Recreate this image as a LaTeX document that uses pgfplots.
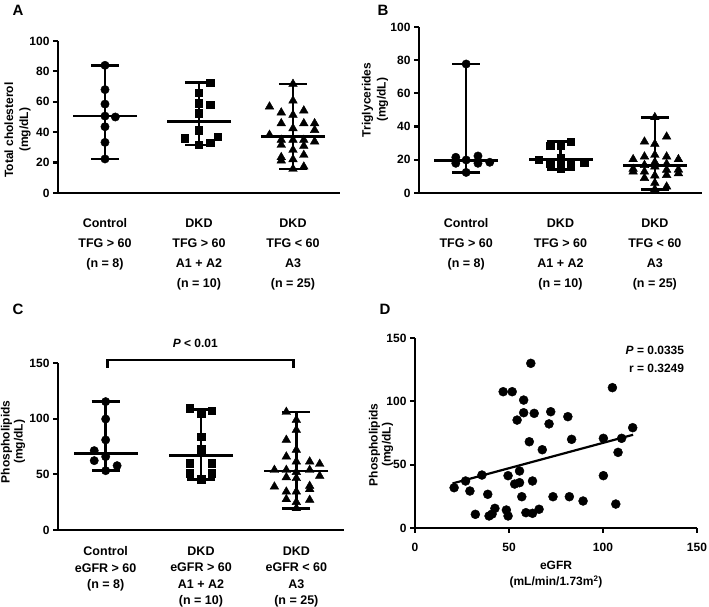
\documentclass[border=0pt]{standalone}
\usepackage{fontspec}
\setmainfont{Liberation Sans}
\usepackage{pgfplots}
\pgfplotsset{compat=1.18}

\pgfplotsset{
  panel/.style={
    scale only axis, clip=false,
    axis lines=left,
    axis line style={-, line width=2.6pt},
    major tick length=5pt,
    tick style={black, line width=2.2pt},
    tick align=outside,
    every tick label/.append style={font=\bfseries\fontsize{12}{14}\selectfont},
    /pgf/number format/assume math mode=true,
  },
  cat/.style={
    panel, xmin=0.5, xmax=3.5, xtick={1,2,3},
    xtick style={draw=none},
  },
  summary/.style={black, line width=2.6pt, mark=-, mark size=32pt, only marks,
    mark options={line width=2.6pt},
    error bars/.cd, y dir=both, y explicit, error mark=-,
    error bar style={line width=2.6pt},
    error mark options={rotate=90, line width=2.6pt, mark size=14pt}},
  dots/.style={only marks, mark=*, mark size=4.2pt, black},
  sqs/.style={only marks, mark=square*, mark size=3.7pt, black},
  tris/.style={only marks, mark=triangle*, mark size=5pt, black},
}

\begin{document}
\begin{tikzpicture}[x=1pt, y=1pt]
\useasboundingbox (0,0) rectangle (709,607);

% panel letters
\node[font=\bfseries\fontsize{15}{15}\selectfont] at (18,597) {A};
\node[font=\bfseries\fontsize{15}{15}\selectfont] at (383,597) {B};
\node[font=\bfseries\fontsize{15}{15}\selectfont] at (18,298) {C};
\node[font=\bfseries\fontsize{15}{15}\selectfont] at (385,298) {D};

% y labels
\node[rotate=90, align=center, font=\bfseries\fontsize{12}{15}\selectfont] at (17.5,477) {Total cholesterol\\(mg/dL)};
\node[rotate=90, align=center, font=\bfseries\fontsize{12}{15}\selectfont] at (375,507) {Triglycerides\\(mg/dL)};
\node[rotate=90, align=center, font=\bfseries\fontsize{12}{13}\selectfont] at (13,165) {Phospholipids\\(mg/dL)};
\node[rotate=90, align=center, font=\bfseries\fontsize{12}{13}\selectfont] at (381,162) {Phospholipids\\(mg/dL)};

% ---- A ----
\begin{axis}[cat, at={(58pt,414pt)}, anchor=south west,
    width=282pt, height=152pt,
    ymin=0, ymax=100, ytick={0,20,...,100},
    xticklabels={{Control\\TFG > 60\\(n = 8)},{DKD\\TFG > 60\\A1 + A2\\(n = 10)},{DKD\\TFG < 60\\A3\\(n = 25)}},
    xticklabel style={align=center, yshift=-17pt, font=\bfseries\fontsize{12.5}{20}\selectfont},
]
\addplot[summary] coordinates {(1,50.6) += (0,33.4) -= (0,28.2)};
\addplot[summary] coordinates {(2,47) += (0,25.5) -= (0,15.4)};
\addplot[summary] coordinates {(3,37) += (0,34.7) -= (0,21.2)};
\addplot[dots] coordinates {(1,84)(1,68)(1,58.5)(1,50.6)(1.11,50)(1,43.6)(1,33.3)(1,22.4)};
\addplot[sqs] coordinates {(2.12,72.5)(2,66)(2,59)(2.12,58)(2,52.4)(2,41.4)(1.85,36)(2.2,37)(2.12,33)(2,31.6)};
\addplot[tris] coordinates {(3,71.7)(3,60.7)(2.75,56.8)(2.875,52.9)(3.115,54.2)(2.875,45.8)(3,51.3)(3.115,45.8)(3.23,45.8)(3,42.5)(3.23,41.4)(2.75,38.2)(2.875,34.9)(3,34.9)(3.115,34.9)(3.23,33.8)(2.875,31.6)(3.115,30.9)(3,28.3)(2.875,23.5)(2.875,21.3)(3,22.1)(3.115,25)(3,15.8)(3.115,17.3)};
\end{axis}

% ---- B ----
\begin{axis}[cat, at={(419pt,414pt)}, anchor=south west,
    width=283pt, height=166pt,
    ymin=0, ymax=100, ytick={0,20,...,100},
    xticklabels={{Control\\TFG > 60\\(n = 8)},{DKD\\TFG > 60\\A1 + A2\\(n = 10)},{DKD\\TFG < 60\\A3\\(n = 25)}},
    xticklabel style={align=center, yshift=-17pt, font=\bfseries\fontsize{12.5}{20}\selectfont},
]
\addplot[summary] coordinates {(1,19.5) += (0,58.2) -= (0,7.1)};
\addplot[summary] coordinates {(2,20) += (0,11) -= (0,6)};
\addplot[summary] coordinates {(3,16.5) += (0,29.1) -= (0,14.3)};
\addplot[dots] coordinates {(0.89,21.5)(0.89,17.9)(1,19.9)(1.125,22.3)(1.125,17.9)(1.25,18.5)(1,12.4)(1,77.7)};
\addplot[sqs] coordinates {(1.89,28.5)(2,28.5)(2.11,31)(1.77,19.9)(1.89,17.9)(2,20.9)(2.11,17.9)(2.25,18.3)(2,14.5)(2,17.5)};
\addplot[tris] coordinates {(3,45.6)(3.125,33.9)(2.89,30.9)(3,29.5)(2.77,20.3)(2.89,21.9)(3,22.9)(3.125,21.9)(3.25,20.3)(2.77,12.8)(2.89,12.8)(3,15.9)(3.125,13.9)(3.25,11.8)(3.125,17.5)(2.89,16.8)(3,18.5)(3.25,14)(2.77,14.5)(3,10.5)(3.125,10.8)(2.89,9)(3,6)(3.125,3.8)(3,2.2)};
\end{axis}

% ---- C ----
\begin{axis}[cat, at={(58pt,77pt)}, anchor=south west,
    width=286pt, height=167pt,
    ymin=0, ymax=150, ytick={0,50,100,150},
    xticklabels={{Control\\eGFR > 60\\(n = 8)},{DKD\\eGFR > 60\\A1 + A2\\(n = 10)},{DKD\\eGFR < 60\\A3\\(n = 25)}},
    xticklabel style={align=center, yshift=-8pt, font=\bfseries\fontsize{12.5}{16.5}\selectfont},
]
\addplot[summary] coordinates {(1,68.9) += (0,46.4) -= (0,15.6)};
\addplot[summary] coordinates {(2,66.8) += (0,41.7) -= (0,21.3)};
\addplot[summary] coordinates {(3,53) += (0,53) -= (0,33.5)};
\addplot[dots] coordinates {(1,115.3)(1,99.7)(1,80.9)(0.88,71.3)(1,65.9)(0.88,62.3)(1.12,57.8)(1,53.3)};
\addplot[sqs] coordinates {(1.88,109.3)(2,104.8)(2.11,106.9)(2,83.9)(2,72.5)(1.88,59.9)(2.11,59.9)(1.88,50.9)(2.11,50.9)(2,45.5)};
\addplot[tris] coordinates {(2.895,106)(3,98.8)(3,89.8)(2.895,80.9)(3,71.9)(2.895,65.9)(3,61.4)(3.14,61.4)(3.245,59.3)(2.77,53.9)(2.895,53.9)(3.14,53.9)(3,52)(3.245,48.5)(2.895,47.3)(3,46.5)(2.77,38.9)(3.14,39.5)(3.14,36.6)(3,34.4)(2.895,34.4)(2.895,27.6)(3,25)(3.14,27)(3,19.5)};
\draw[line width=2.6pt] (axis cs:1.02,145.6) -- (axis cs:1.02,152.7) -- (axis cs:2.97,152.7) -- (axis cs:2.97,145.6);
\node[font=\bfseries\fontsize{12}{14}\selectfont] at (axis cs:1.94,168) {\textit{P} < 0.01};
\end{axis}

% ---- D ----
\begin{axis}[panel, at={(415pt,79pt)}, anchor=south west,
    width=282pt, height=190pt,
    xmin=0, xmax=150, ymin=0, ymax=150,
    xtick={0,50,100,150}, ytick={0,50,100,150},
    xticklabel style={yshift=-7pt},
    xlabel={eGFR\\(mL/min/1.73m\textsuperscript{2})},
    xlabel style={at={(axis description cs:0.5,0)}, anchor=center, yshift=-47pt, align=center, font=\bfseries\fontsize{12}{16}\selectfont},
]
\addplot[black, line width=2.2pt] coordinates {(20,35.2) (116,73.6)};
\addplot[dots, mark size=4.5pt] coordinates {
(61.6,130)(46.9,107.6)(51.7,107.6)(57.8,101)(57.8,91)(63.4,90.5)(72.2,91.8)(54.3,85.2)(71.3,82.2)(81.3,87.9)
(60.8,68.1)(67.7,61.8)(83.3,70)(100.2,70.8)(109.9,70.8)(115.8,79.2)(108,59.7)(105,110.8)(100.2,41.3)(20.8,31.8)
(26.9,37.1)(29.2,29.2)(35.6,41.8)(38.7,26.6)(49.5,41.3)(55.6,45)(53,34.7)(55.6,35.8)(62.5,37.1)(56.8,24.7)
(73.4,24.7)(82.1,24.7)(89.4,21.3)(106.8,18.9)(32.1,10.8)(39.4,9.5)(41,11)(42.5,15.5)(48.6,14.2)(49.5,9.5)
(59,12.1)(62.5,11.6)(66,14.8)};
\node[anchor=east, font=\bfseries\fontsize{12}{14}\selectfont] at (axis cs:145,140.5) {\textit{P} = 0.0335};
\node[anchor=east, font=\bfseries\fontsize{12}{14}\selectfont] at (axis cs:145,126) {r = 0.3249};
\end{axis}
\end{tikzpicture}
\end{document}
